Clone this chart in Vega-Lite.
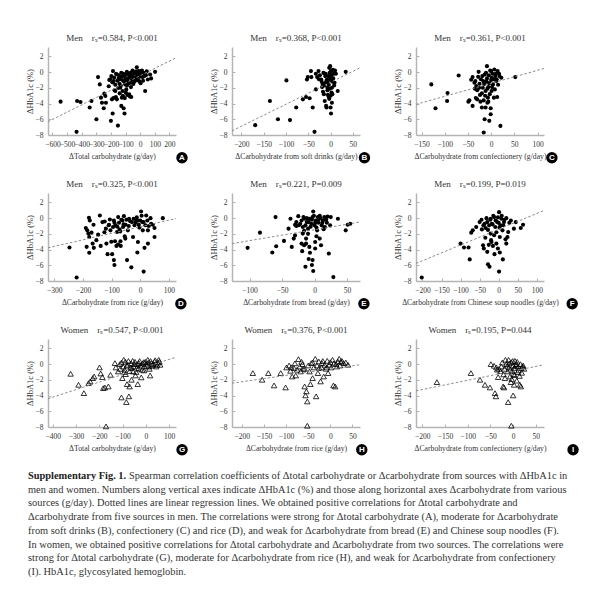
{
"$schema": "https://vega.github.io/schema/vega-lite/v6.json",
"padding": {"left": 25, "top": 34, "right": 5, "bottom": 5},
"config": {
 "font": "Liberation Serif",
 "view": {"stroke": null},
 "axis": {"domainColor": "#b4b4b4", "domainWidth": 1.5, "tickColor": "#b4b4b4", "tickSize": -3, "tickWidth": 1, "tickCount": 20, "labelFont": "Liberation Serif", "labelFontSize": 7.5, "labelColor": "#333", "labelPadding": 8, "titleFont": "Liberation Serif", "titleFontSize": 7.7, "titleFontWeight": "normal", "titleColor": "#333", "grid": false, "labelOverlap": false, "labelFlush": false},
 "axisX": {"titlePadding": 5, "labelOverlap": false},
 "axisY": {"titlePadding": 1, "titleFontSize": 8.5, "labelOverlap": false},
 "title": {"font": "Liberation Serif", "fontSize": 9, "fontWeight": "normal", "color": "#333", "offset": 4}
},
"datasets": {
 "A": [{"x":-544,"y":-3.76},{"x":-435,"y":-7.6},{"x":-431,"y":-3.67},{"x":-408,"y":-3.8},{"x":-333,"y":-3.67},{"x":-345,"y":-4.5},{"x":-288,"y":-0.63},{"x":-276,"y":-1.56},{"x":-299,"y":-6.0},{"x":-268,"y":-3.25},{"x":-245,"y":-2.74},{"x":-238,"y":-3.04},{"x":-261,"y":-3.9},{"x":-234,"y":-3.9},{"x":-249,"y":-4.6},{"x":-211,"y":-1.0},{"x":-215,"y":-1.8},{"x":-200,"y":-6.2},{"x":-193,"y":-3.46},{"x":-188,"y":-5.27},{"x":-186,"y":0.13},{"x":-197,"y":-0.5},{"x":-181,"y":-1.14},{"x":-175,"y":-2.3},{"x":-166,"y":-3.16},{"x":-159,"y":-3.46},{"x":-152,"y":-6.8},{"x":-159,"y":-0.3},{"x":-147,"y":-0.8},{"x":-141,"y":-1.48},{"x":-136,"y":-1.98},{"x":-129,"y":-0.08},{"x":-125,"y":-3.25},{"x":-129,"y":-4.3},{"x":-113,"y":-4.6},{"x":-107,"y":-5.27},{"x":-118,"y":-1.05},{"x":-107,"y":-0.5},{"x":-102,"y":-1.56},{"x":-95,"y":-2.2},{"x":-91,"y":0.04},{"x":-84,"y":-0.8},{"x":-75,"y":-2.83},{"x":-61,"y":-3.16},{"x":-68,"y":-1.35},{"x":-57,"y":-0.38},{"x":-52,"y":0.2},{"x":-43,"y":-0.93},{"x":-34,"y":-0.2},{"x":-23,"y":0.63},{"x":-18,"y":-0.5},{"x":-11,"y":0.13},{"x":-7,"y":-1.14},{"x":7,"y":-0.08},{"x":16,"y":-0.63},{"x":23,"y":-0.08},{"x":34,"y":-2.4},{"x":39,"y":-0.38},{"x":52,"y":-0.93},{"x":68,"y":-0.3},{"x":75,"y":-0.8},{"x":102,"y":0.04},{"x":-205,"y":-0.9},{"x":-190,"y":-1.3},{"x":-178,"y":-0.7},{"x":-170,"y":-1.6},{"x":-165,"y":-0.2},{"x":-155,"y":-1.1},{"x":-150,"y":-2.0},{"x":-145,"y":-0.4},{"x":-138,"y":-0.9},{"x":-132,"y":-1.7},{"x":-126,"y":-0.6},{"x":-120,"y":-2.4},{"x":-115,"y":-0.2},{"x":-110,"y":-1.2},{"x":-100,"y":-0.9},{"x":-96,"y":-0.3},{"x":-90,"y":-1.7},{"x":-86,"y":-1.1},{"x":-80,"y":-0.2},{"x":-78,"y":-1.4},{"x":-72,"y":-0.6},{"x":-66,"y":-0.1},{"x":-63,"y":-1.9},{"x":-58,"y":-1.0},{"x":-50,"y":-0.6},{"x":-47,"y":-1.5},{"x":-40,"y":-0.1},{"x":-38,"y":-1.2},{"x":-30,"y":-0.7},{"x":-27,"y":0.1},{"x":-20,"y":-1.0},{"x":-15,"y":-0.3},{"x":-5,"y":-0.6},{"x":0,"y":0.1},{"x":3,"y":-1.4},{"x":10,"y":-0.4},{"x":12,"y":0.2},{"x":20,"y":-1.1},{"x":28,"y":-0.5},{"x":45,"y":0.1},{"x":-140,"y":-2.7},{"x":-118,"y":-3.0},{"x":-98,"y":-2.6},{"x":-170,"y":-2.4},{"x":-183,"y":-3.3},{"x":-105,"y":-3.3},{"x":-88,"y":-2.9},{"x":-70,"y":-3.1}],
 "B": [{"x":-169,"y":-6.75},{"x":-136,"y":-3.67},{"x":-118,"y":-6.0},{"x":-99,"y":-1.05},{"x":-91,"y":-6.1},{"x":-77,"y":-4.5},{"x":-62,"y":-3.46},{"x":-55,"y":-3.16},{"x":-53,"y":-0.93},{"x":-51,"y":-0.63},{"x":-47,"y":-3.33},{"x":-44,"y":0.13},{"x":-43,"y":-0.63},{"x":-40,"y":-4.5},{"x":-36,"y":-7.6},{"x":-33,"y":-0.2},{"x":-30,"y":-0.63},{"x":-27,"y":0.13},{"x":-33,"y":-2.2},{"x":-21,"y":-0.93},{"x":-18,"y":-1.48},{"x":-17,"y":-2.5},{"x":-15,"y":-2.8},{"x":-13,"y":-3.67},{"x":-12,"y":-0.5},{"x":-10,"y":-4.3},{"x":-9,"y":-4.5},{"x":-8,"y":-0.93},{"x":-7,"y":-1.98},{"x":-6,"y":-1.35},{"x":-4,"y":-3.16},{"x":-3,"y":0.55},{"x":-1,"y":0.76},{"x":-1,"y":-0.72},{"x":0,"y":-4.5},{"x":1,"y":-5.27},{"x":1,"y":0.13},{"x":3,"y":-1.98},{"x":4,"y":-2.8},{"x":3,"y":-3.9},{"x":7,"y":-0.2},{"x":9,"y":-1.35},{"x":12,"y":-0.2},{"x":16,"y":-2.4},{"x":34,"y":0.04},{"x":-24,"y":-0.4},{"x":-20,"y":-1.2},{"x":-16,"y":-0.1},{"x":-14,"y":-1.7},{"x":-11,"y":-0.2},{"x":-9,"y":-1.1},{"x":-7,"y":-2.3},{"x":-5,"y":-0.5},{"x":-4,"y":-1.6},{"x":-2,"y":-0.1},{"x":-2,"y":-2.1},{"x":0,"y":-1.0},{"x":0,"y":-3.0},{"x":2,"y":-0.4},{"x":2,"y":-2.6},{"x":4,"y":-1.2},{"x":5,"y":0.3},{"x":6,"y":-0.8},{"x":8,"y":-1.7},{"x":10,"y":0.2},{"x":-3,"y":-3.4},{"x":-6,"y":-2.9},{"x":-19,"y":-1.9},{"x":-26,"y":-0.9},{"x":-12,"y":-1.4}],
 "C": [{"x":-129,"y":-1.56},{"x":-120,"y":-4.6},{"x":-94,"y":-2.66},{"x":-95,"y":-3.67},{"x":-70,"y":-0.42},{"x":-49,"y":-3.76},{"x":-47,"y":-3.59},{"x":-40,"y":-4.3},{"x":-43,"y":-0.97},{"x":-40,"y":-0.63},{"x":-36,"y":-1.35},{"x":-34,"y":-1.14},{"x":-32,"y":-1.77},{"x":-30,"y":-2.3},{"x":-30,"y":-3.46},{"x":-27,"y":0.04},{"x":-25,"y":-1.48},{"x":-24,"y":-2.9},{"x":-23,"y":-3.76},{"x":-20,"y":-4.5},{"x":-19,"y":-0.5},{"x":-18,"y":-1.98},{"x":-17,"y":-1.14},{"x":-16,"y":-7.68},{"x":-14,"y":-6.0},{"x":-12,"y":-4.5},{"x":-12,"y":-2.4},{"x":-11,"y":-0.08},{"x":-9,"y":0.76},{"x":-9,"y":-0.8},{"x":-7,"y":-3.25},{"x":-6,"y":-1.9},{"x":-6,"y":-3.76},{"x":-4,"y":-6.2},{"x":-1,"y":-5.36},{"x":-1,"y":-4.6},{"x":0,"y":0.13},{"x":1,"y":-0.72},{"x":1,"y":-2.4},{"x":4,"y":-1.56},{"x":6,"y":-3.25},{"x":7,"y":0.34},{"x":9,"y":-0.5},{"x":11,"y":-1.14},{"x":13,"y":-3.16},{"x":14,"y":0.13},{"x":17,"y":-0.2},{"x":20,"y":-6.84},{"x":22,"y":-0.72},{"x":52,"y":-0.63},{"x":-22,"y":-0.9},{"x":-20,"y":-2.7},{"x":-15,"y":-1.5},{"x":-14,"y":-0.3},{"x":-13,"y":-3.0},{"x":-10,"y":-1.2},{"x":-8,"y":-2.1},{"x":-5,"y":-0.4},{"x":-4,"y":-1.4},{"x":-3,"y":-2.8},{"x":-2,"y":0.2},{"x":0,"y":-1.0},{"x":2,"y":-1.9},{"x":3,"y":-0.2},{"x":5,"y":-0.9},{"x":8,"y":-2.2},{"x":10,"y":-0.2},{"x":12,"y":-0.9},{"x":15,"y":-1.6},{"x":18,"y":-0.5},{"x":-28,"y":-0.6},{"x":-26,"y":-2.0},{"x":-35,"y":-2.1},{"x":-33,"y":-3.3},{"x":-16,"y":-3.6},{"x":-8,"y":-3.9}],
 "D": [{"x":-247,"y":-3.74},{"x":-222,"y":-7.56},{"x":-178,"y":-4.4},{"x":-179,"y":0.05},{"x":-176,"y":-0.3},{"x":-190,"y":-1.26},{"x":-185,"y":-1.55},{"x":-181,"y":-1.97},{"x":-187,"y":-3.65},{"x":-178,"y":-2.4},{"x":-170,"y":-1.85},{"x":-166,"y":-3.24},{"x":-163,"y":-0.84},{"x":-162,"y":-3.78},{"x":-153,"y":-2.8},{"x":-147,"y":-2.1},{"x":-141,"y":0.34},{"x":-138,"y":-3.53},{"x":-132,"y":-0.5},{"x":-124,"y":-0.42},{"x":-120,"y":-1.34},{"x":-118,"y":-3.24},{"x":-114,"y":-4.58},{"x":-109,"y":-0.84},{"x":-106,"y":-0.17},{"x":-104,"y":-1.55},{"x":-101,"y":-3.0},{"x":-98,"y":-4.58},{"x":-95,"y":-1.13},{"x":-92,"y":-0.3},{"x":-92,"y":-5.34},{"x":-90,"y":-5.97},{"x":-88,"y":-2.94},{"x":-86,"y":-0.92},{"x":-83,"y":-3.53},{"x":-81,"y":-1.76},{"x":-77,"y":0.13},{"x":-77,"y":-3.36},{"x":-74,"y":-0.59},{"x":-72,"y":-1.43},{"x":-69,"y":-2.94},{"x":-68,"y":-3.53},{"x":-62,"y":-0.3},{"x":-60,"y":-1.13},{"x":-57,"y":0.25},{"x":-54,"y":-2.31},{"x":-51,"y":-0.84},{"x":-46,"y":-5.34},{"x":-43,"y":-1.55},{"x":-39,"y":-0.08},{"x":-31,"y":-6.26},{"x":-29,"y":-0.5},{"x":-25,"y":-2.4},{"x":-23,"y":-0.08},{"x":-16,"y":-0.59},{"x":-14,"y":-0.34},{"x":-10,"y":-4.37},{"x":-8,"y":-3.03},{"x":-5,"y":-0.84},{"x":0,"y":-0.3},{"x":3,"y":0.84},{"x":7,"y":-0.5},{"x":9,"y":-1.55},{"x":12,"y":-6.8},{"x":15,"y":-3.78},{"x":21,"y":0.34},{"x":27,"y":-1.55},{"x":27,"y":-3.24},{"x":36,"y":0.0},{"x":38,"y":-0.71},{"x":44,"y":-0.84},{"x":50,"y":-1.26},{"x":50,"y":-2.4},{"x":79,"y":0.0},{"x":-90,"y":-0.6},{"x":-80,"y":-1.1},{"x":-66,"y":-0.2},{"x":-58,"y":-0.8},{"x":-48,"y":-0.2},{"x":-40,"y":-1.0},{"x":-35,"y":-0.4},{"x":-20,"y":-0.9},{"x":-12,"y":0.1},{"x":-8,"y":-0.3},{"x":-3,"y":-1.2},{"x":5,"y":0.3},{"x":12,"y":-0.5},{"x":18,"y":-0.9},{"x":25,"y":-0.3},{"x":30,"y":-1.0},{"x":-110,"y":-0.9},{"x":-125,"y":-1.8},{"x":-70,"y":-1.7},{"x":-52,"y":-2.6}],
 "E": [{"x":-103,"y":-3.78},{"x":-84,"y":-1.85},{"x":-65,"y":-4.37},{"x":-60,"y":0.13},{"x":-59,"y":-3.57},{"x":-47,"y":-2.9},{"x":-40,"y":-1.34},{"x":-37,"y":-0.08},{"x":-35,"y":-3.66},{"x":-32,"y":-2.6},{"x":-30,"y":-0.84},{"x":-28,"y":-0.5},{"x":-25,"y":0.25},{"x":-22,"y":-0.71},{"x":-20,"y":-3.24},{"x":-19,"y":-4.2},{"x":-18,"y":-1.97},{"x":-18,"y":-1.13},{"x":-17,"y":0.13},{"x":-16,"y":-3.45},{"x":-15,"y":-0.08},{"x":-14,"y":-6.18},{"x":-14,"y":-0.92},{"x":-13,"y":-2.6},{"x":-13,"y":-3.24},{"x":-12,"y":-0.5},{"x":-10,"y":-1.34},{"x":-9,"y":-5.2},{"x":-8,"y":-3.66},{"x":-8,"y":-0.08},{"x":-7,"y":-4.4},{"x":-5,"y":-0.71},{"x":-4,"y":-5.97},{"x":-3,"y":-5.34},{"x":-3,"y":0.13},{"x":-2,"y":0.84},{"x":-2,"y":-6.72},{"x":0,"y":-0.92},{"x":1,"y":-3.87},{"x":1,"y":-3.03},{"x":2,"y":-0.3},{"x":4,"y":-1.55},{"x":5,"y":0.13},{"x":6,"y":-0.59},{"x":8,"y":-2.6},{"x":9,"y":0.0},{"x":10,"y":-3.45},{"x":11,"y":-0.92},{"x":13,"y":-0.3},{"x":15,"y":0.13},{"x":16,"y":-1.13},{"x":19,"y":-0.59},{"x":22,"y":-4.5},{"x":24,"y":-0.92},{"x":25,"y":0.13},{"x":29,"y":-7.5},{"x":36,"y":-0.08},{"x":48,"y":-1.55},{"x":51,"y":-0.84},{"x":55,"y":-0.71},{"x":-24,"y":-0.9},{"x":-20,"y":-0.3},{"x":-16,"y":-1.6},{"x":-12,"y":0.0},{"x":-9,"y":-0.5},{"x":-6,"y":-1.1},{"x":-4,"y":-0.2},{"x":-1,"y":0.3},{"x":1,"y":-0.6},{"x":3,"y":-1.2},{"x":6,"y":-0.2},{"x":8,"y":0.3},{"x":12,"y":-0.6},{"x":14,"y":-1.4},{"x":18,"y":-0.2},{"x":20,"y":0.2},{"x":-28,"y":-1.0},{"x":-30,"y":-2.2},{"x":-10,"y":-2.0},{"x":3,"y":-2.3}],
 "F": [{"x":-202,"y":-7.56},{"x":-100,"y":-3.24},{"x":-91,"y":-3.74},{"x":-79,"y":-3.74},{"x":-76,"y":-5.25},{"x":-72,"y":-1.85},{"x":-68,"y":-1.55},{"x":-59,"y":-1.13},{"x":-50,"y":-0.5},{"x":-44,"y":-1.43},{"x":-41,"y":-3.45},{"x":-39,"y":-3.87},{"x":-37,"y":-0.71},{"x":-34,"y":-1.26},{"x":-32,"y":0.0},{"x":-30,"y":-4.29},{"x":-28,"y":-5.88},{"x":-25,"y":-0.92},{"x":-24,"y":-6.18},{"x":-21,"y":-0.08},{"x":-21,"y":-1.97},{"x":-19,"y":-3.03},{"x":-18,"y":-0.71},{"x":-15,"y":-3.53},{"x":-12,"y":0.13},{"x":-12,"y":-2.18},{"x":-11,"y":-4.58},{"x":-9,"y":-1.13},{"x":-6,"y":-3.24},{"x":-4,"y":-0.5},{"x":-2,"y":-3.87},{"x":1,"y":0.76},{"x":1,"y":-6.8},{"x":3,"y":-4.37},{"x":3,"y":-2.4},{"x":5,"y":-0.92},{"x":7,"y":-0.08},{"x":10,"y":-1.55},{"x":11,"y":-5.25},{"x":14,"y":-0.5},{"x":20,"y":0.0},{"x":20,"y":-3.24},{"x":23,"y":-2.4},{"x":25,"y":-1.76},{"x":32,"y":-0.3},{"x":40,"y":-1.34},{"x":45,"y":-0.5},{"x":58,"y":-1.26},{"x":64,"y":-0.84},{"x":-45,"y":-0.2},{"x":-40,"y":-0.9},{"x":-30,"y":-0.5},{"x":-28,"y":-1.5},{"x":-22,"y":-0.2},{"x":-16,"y":-0.8},{"x":-14,"y":0.3},{"x":-8,"y":-0.3},{"x":-6,"y":-1.8},{"x":-2,"y":0.1},{"x":0,"y":-0.6},{"x":2,"y":-1.2},{"x":8,"y":0.3},{"x":12,"y":-0.9},{"x":15,"y":-0.2},{"x":18,"y":-2.7},{"x":-35,"y":-2.5},{"x":-26,"y":-3.4},{"x":-20,"y":-2.8},{"x":28,"y":-0.6}],
 "G": [{"x":-323,"y":-1.23},{"x":-289,"y":-2.63},{"x":-266,"y":-3.69},{"x":-246,"y":-2.42},{"x":-239,"y":-2.2},{"x":-228,"y":-1.78},{"x":-222,"y":-1.57},{"x":-199,"y":-0.42},{"x":-194,"y":-1.19},{"x":-183,"y":-3.05},{"x":-171,"y":-7.92},{"x":-187,"y":-1.65},{"x":-176,"y":-2.97},{"x":-161,"y":-2.84},{"x":-152,"y":-1.36},{"x":-133,"y":0.13},{"x":-129,"y":-0.42},{"x":-119,"y":-0.93},{"x":-112,"y":0.0},{"x":-105,"y":-4.24},{"x":-101,"y":-1.78},{"x":-95,"y":0.55},{"x":-91,"y":-0.72},{"x":-87,"y":-1.27},{"x":-84,"y":-4.83},{"x":-81,"y":-2.54},{"x":-77,"y":-0.08},{"x":-73,"y":-4.1},{"x":-70,"y":-2.84},{"x":-66,"y":-0.42},{"x":-62,"y":-1.99},{"x":-57,"y":0.42},{"x":-54,"y":-0.93},{"x":-50,"y":0.0},{"x":-45,"y":-1.44},{"x":-40,"y":-0.51},{"x":-35,"y":-2.54},{"x":-30,"y":0.13},{"x":-24,"y":-0.17},{"x":-20,"y":-1.69},{"x":-16,"y":-0.72},{"x":-10,"y":0.25},{"x":-6,"y":-0.3},{"x":1,"y":0.0},{"x":8,"y":0.55},{"x":13,"y":-0.3},{"x":18,"y":-1.44},{"x":23,"y":0.13},{"x":30,"y":-0.08},{"x":37,"y":0.34},{"x":44,"y":-0.3},{"x":55,"y":0.55},{"x":61,"y":-0.08},{"x":-110,"y":-0.6},{"x":-105,"y":0.2},{"x":-98,"y":-0.3},{"x":-93,"y":-1.0},{"x":-88,"y":0.3},{"x":-82,"y":-0.2},{"x":-75,"y":0.4},{"x":-70,"y":-0.9},{"x":-64,"y":0.1},{"x":-60,"y":-0.5},{"x":-52,"y":-0.3},{"x":-47,"y":0.3},{"x":-42,"y":-1.0},{"x":-37,"y":0.0},{"x":-32,"y":-0.6},{"x":-27,"y":0.4},{"x":-20,"y":-0.3},{"x":-14,"y":0.1},{"x":-8,"y":-0.8},{"x":-3,"y":0.3},{"x":4,"y":-0.2},{"x":10,"y":0.2},{"x":15,"y":-0.6},{"x":20,"y":0.4},{"x":26,"y":-0.2},{"x":33,"y":0.0},{"x":40,"y":0.5},{"x":48,"y":-0.1},{"x":52,"y":0.2},{"x":58,"y":0.3}],
 "H": [{"x":-175,"y":-1.14},{"x":-154,"y":-1.99},{"x":-140,"y":-1.14},{"x":-127,"y":-2.71},{"x":-112,"y":-1.14},{"x":-101,"y":-2.97},{"x":-99,"y":-0.42},{"x":-93,"y":-0.17},{"x":-90,"y":-0.85},{"x":-86,"y":-1.57},{"x":-82,"y":-0.51},{"x":-78,"y":-1.44},{"x":-75,"y":-0.72},{"x":-72,"y":0.64},{"x":-69,"y":-0.3},{"x":-67,"y":-0.93},{"x":-63,"y":0.0},{"x":-61,"y":-0.59},{"x":-58,"y":-2.84},{"x":-56,"y":-3.98},{"x":-52,"y":-4.75},{"x":-52,"y":-7.84},{"x":-54,"y":-3.47},{"x":-50,"y":-0.17},{"x":-47,"y":-0.93},{"x":-45,"y":-2.54},{"x":-43,"y":0.13},{"x":-40,"y":-1.78},{"x":-37,"y":-0.42},{"x":-34,"y":0.68},{"x":-32,"y":-4.1},{"x":-30,"y":-0.17},{"x":-28,"y":-1.14},{"x":-26,"y":0.34},{"x":-22,"y":-2.2},{"x":-20,"y":-0.42},{"x":-19,"y":0.13},{"x":-15,"y":-1.57},{"x":-13,"y":-0.08},{"x":-10,"y":-0.59},{"x":-7,"y":0.42},{"x":-5,"y":-1.14},{"x":-2,"y":-0.08},{"x":0,"y":0.25},{"x":2,"y":-0.42},{"x":5,"y":0.55},{"x":7,"y":-2.71},{"x":11,"y":-2.84},{"x":13,"y":0.0},{"x":17,"y":0.34},{"x":20,"y":0.68},{"x":22,"y":-0.17},{"x":26,"y":0.42},{"x":30,"y":0.13},{"x":40,"y":-0.08},{"x":-88,"y":-0.4},{"x":-80,"y":0.1},{"x":-65,"y":0.3},{"x":-58,"y":-0.6},{"x":-40,"y":0.2},{"x":-25,"y":-0.5},{"x":-17,"y":0.4},{"x":-8,"y":-0.4},{"x":8,"y":0.1},{"x":15,"y":-0.3},{"x":24,"y":0.3},{"x":35,"y":0.2}],
 "I": [{"x":-168,"y":-2.29},{"x":-93,"y":-1.14},{"x":-73,"y":-1.99},{"x":-62,"y":-2.63},{"x":-51,"y":-2.97},{"x":-49,"y":0.0},{"x":-42,"y":-0.21},{"x":-40,"y":-3.69},{"x":-38,"y":-4.1},{"x":-37,"y":-0.42},{"x":-33,"y":-1.65},{"x":-31,"y":-0.59},{"x":-26,"y":-0.3},{"x":-22,"y":-2.84},{"x":-20,"y":-2.97},{"x":-18,"y":-1.78},{"x":-17,"y":0.55},{"x":-15,"y":0.0},{"x":-12,"y":-0.93},{"x":-11,"y":-4.83},{"x":-10,"y":0.55},{"x":-9,"y":-0.42},{"x":-7,"y":-1.57},{"x":-5,"y":-2.29},{"x":-4,"y":0.25},{"x":-4,"y":-7.84},{"x":-2,"y":-0.85},{"x":0,"y":-0.17},{"x":0,"y":-3.98},{"x":1,"y":-1.27},{"x":2,"y":-2.63},{"x":4,"y":0.42},{"x":5,"y":-0.51},{"x":7,"y":0.0},{"x":10,"y":-1.02},{"x":11,"y":-0.3},{"x":15,"y":-2.63},{"x":17,"y":-2.84},{"x":18,"y":-0.51},{"x":22,"y":-0.17},{"x":24,"y":-0.59},{"x":-28,"y":-0.9},{"x":-24,"y":0.2},{"x":-21,"y":-1.3},{"x":-13,"y":-0.2},{"x":-8,"y":0.1},{"x":-6,"y":-0.7},{"x":-3,"y":-1.9},{"x":-1,"y":0.4},{"x":2,"y":-0.5},{"x":3,"y":-1.4},{"x":6,"y":-0.2},{"x":8,"y":-2.1},{"x":9,"y":0.3},{"x":12,"y":-0.8},{"x":14,"y":-1.5},{"x":16,"y":0.0},{"x":19,"y":-1.1},{"x":21,"y":-0.3},{"x":-35,"y":-0.7},{"x":-19,"y":-0.6}],
 "lines": [{"p":"A","x1":-630,"y1":-6.3,"x2":245,"y2":1.83},{"p":"B","x1":-221,"y1":-7.47,"x2":66,"y2":0.55},{"p":"C","x1":-162,"y1":-4.1,"x2":114,"y2":0.46},{"p":"D","x1":-322,"y1":-3.78,"x2":125,"y2":-0.05},{"p":"E","x1":-127,"y1":-3.24,"x2":70,"y2":-0.5},{"p":"F","x1":-217,"y1":-5.76,"x2":119,"y2":0.97},{"p":"G","x1":-420,"y1":-4.4,"x2":129,"y2":0.89},{"p":"H","x1":-222,"y1":-2.42,"x2":67,"y2":-0.08},{"p":"I","x1":-214,"y1":-3.39,"x2":68,"y2":-0.08}],
 "badges": [{"p":"A","letter":"A"},{"p":"B","letter":"B"},{"p":"C","letter":"C"},{"p":"D","letter":"D"},{"p":"E","letter":"E"},{"p":"F","letter":"F"},{"p":"G","letter":"G"},{"p":"H","letter":"H"},{"p":"I","letter":"I"}],
 "captionHead": [{"line":1,"text":"Supplementary Fig. 1."}],
 "caption": [
  {"line":1,"text":"Spearman correlation coefficients of Δtotal carbohydrate or Δcarbohydrate from sources with ΔHbA1c in"},
  {"line":2,"text":"men and women. Numbers along vertical axes indicate ΔHbA1c (%) and those along horizontal axes Δcarbohydrate from various"},
  {"line":3,"text":"sources (g/day). Dotted lines are linear regression lines. We obtained positive correlations for Δtotal carbohydrate and"},
  {"line":4,"text":"Δcarbohydrate from five sources in men. The correlations were strong for Δtotal carbohydrate (A), moderate for Δcarbohydrate"},
  {"line":5,"text":"from soft drinks (B), confectionery (C) and rice (D), and weak for Δcarbohydrate from bread (E) and Chinese soup noodles (F)."},
  {"line":6,"text":"In women, we obtained positive correlations for Δtotal carbohydrate and Δcarbohydrate from two sources. The correlations were"},
  {"line":7,"text":"strong for Δtotal carbohydrate (G), moderate for Δcarbohydrate from rice (H), and weak for Δcarbohydrate from confectionery"},
  {"line":8,"text":"(I). HbA1c, glycosylated hemoglobin."}
 ]
},
"spacing": 15,
"vconcat": [
 {
  "columns": 3,
  "spacing": {"row": 58, "column": 56},
  "bounds": "flush",
  "concat": [
   {"width":128,"height":88,"title":"Men\u00a0\u00a0\u00a0\u00a0rₛ=0.584, P<0.001","layer":[
    {"data":{"name":"A"},"mark":{"type":"circle","color":"black","size":17,"opacity":1},"encoding":{"x":{"field":"x","type":"quantitative","scale":{"domain":[-630,245],"nice":false,"zero":false},"axis":{"values":[-600,-500,-400,-300,-200,-100,0,100,200],"format":"d","tickCount":20,"labelOverlap":false,"title":"ΔTotal carbohydrate (g/day)"}},"y":{"field":"y","type":"quantitative","scale":{"domain":[-8,3.2],"nice":false,"zero":false},"axis":{"values":[-8,-6,-4,-2,0,2],"format":"d","tickCount":20,"labelOverlap":false,"title":"ΔHbA1c (%)"}}}},
    {"data":{"name":"lines"},"transform":[{"filter":"datum.p==='A'"}],"mark":{"type":"rule","color":"#8c8c8c","strokeDash":[2.5,2],"strokeWidth":1},"encoding":{"x":{"field":"x1","type":"quantitative"},"x2":{"field":"x2"},"y":{"field":"y1","type":"quantitative"},"y2":{"field":"y2"}}},
    {"data":{"name":"badges"},"transform":[{"filter":"datum.p==='A'"}],"mark":{"type":"circle","color":"black","size":130,"opacity":1},"encoding":{"x":{"datum":286,"type":"quantitative"},"y":{"datum":-10.9,"type":"quantitative"}}},
    {"data":{"name":"badges"},"transform":[{"filter":"datum.p==='A'"}],"mark":{"type":"text","color":"white","font":"Liberation Sans","fontWeight":"bold","fontSize":8,"align":"center","baseline":"middle"},"encoding":{"x":{"datum":286,"type":"quantitative"},"y":{"datum":-10.9,"type":"quantitative"},"text":{"field":"letter"}}}
   ]},
   {"width":128,"height":88,"title":"Men\u00a0\u00a0\u00a0\u00a0rₛ=0.368, P<0.001","layer":[
    {"data":{"name":"B"},"mark":{"type":"circle","color":"black","size":17,"opacity":1},"encoding":{"x":{"field":"x","type":"quantitative","scale":{"domain":[-221,66],"nice":false,"zero":false},"axis":{"values":[-200,-150,-100,-50,0,50],"format":"d","tickCount":20,"labelOverlap":false,"title":"ΔCarbohydrate from soft drinks (g/day)"}},"y":{"field":"y","type":"quantitative","scale":{"domain":[-8,3.2],"nice":false,"zero":false},"axis":{"values":[-8,-6,-4,-2,0,2],"format":"d","tickCount":20,"labelOverlap":false,"title":"ΔHbA1c (%)"}}}},
    {"data":{"name":"lines"},"transform":[{"filter":"datum.p==='B'"}],"mark":{"type":"rule","color":"#8c8c8c","strokeDash":[2.5,2],"strokeWidth":1},"encoding":{"x":{"field":"x1","type":"quantitative"},"x2":{"field":"x2"},"y":{"field":"y1","type":"quantitative"},"y2":{"field":"y2"}}},
    {"data":{"name":"badges"},"transform":[{"filter":"datum.p==='B'"}],"mark":{"type":"circle","color":"black","size":130,"opacity":1},"encoding":{"x":{"datum":76,"type":"quantitative"},"y":{"datum":-10.9,"type":"quantitative"}}},
    {"data":{"name":"badges"},"transform":[{"filter":"datum.p==='B'"}],"mark":{"type":"text","color":"white","font":"Liberation Sans","fontWeight":"bold","fontSize":8,"align":"center","baseline":"middle"},"encoding":{"x":{"datum":76,"type":"quantitative"},"y":{"datum":-10.9,"type":"quantitative"},"text":{"field":"letter"}}}
   ]},
   {"width":128,"height":88,"title":"Men\u00a0\u00a0\u00a0\u00a0rₛ=0.361, P<0.001","layer":[
    {"data":{"name":"C"},"mark":{"type":"circle","color":"black","size":17,"opacity":1},"encoding":{"x":{"field":"x","type":"quantitative","scale":{"domain":[-162,114],"nice":false,"zero":false},"axis":{"values":[-150,-100,-50,0,50,100],"format":"d","tickCount":20,"labelOverlap":false,"title":"ΔCarbohydrate from confectionery (g/day)"}},"y":{"field":"y","type":"quantitative","scale":{"domain":[-8,3.2],"nice":false,"zero":false},"axis":{"values":[-8,-6,-4,-2,0,2],"format":"d","tickCount":20,"labelOverlap":false,"title":"ΔHbA1c (%)"}}}},
    {"data":{"name":"lines"},"transform":[{"filter":"datum.p==='C'"}],"mark":{"type":"rule","color":"#8c8c8c","strokeDash":[2.5,2],"strokeWidth":1},"encoding":{"x":{"field":"x1","type":"quantitative"},"x2":{"field":"x2"},"y":{"field":"y1","type":"quantitative"},"y2":{"field":"y2"}}},
    {"data":{"name":"badges"},"transform":[{"filter":"datum.p==='C'"}],"mark":{"type":"circle","color":"black","size":130,"opacity":1},"encoding":{"x":{"datum":131,"type":"quantitative"},"y":{"datum":-10.9,"type":"quantitative"}}},
    {"data":{"name":"badges"},"transform":[{"filter":"datum.p==='C'"}],"mark":{"type":"text","color":"white","font":"Liberation Sans","fontWeight":"bold","fontSize":8,"align":"center","baseline":"middle"},"encoding":{"x":{"datum":131,"type":"quantitative"},"y":{"datum":-10.9,"type":"quantitative"},"text":{"field":"letter"}}}
   ]},
   {"width":128,"height":88,"title":"Men\u00a0\u00a0\u00a0\u00a0rₛ=0.325, P<0.001","layer":[
    {"data":{"name":"D"},"mark":{"type":"circle","color":"black","size":17,"opacity":1},"encoding":{"x":{"field":"x","type":"quantitative","scale":{"domain":[-322,125],"nice":false,"zero":false},"axis":{"values":[-300,-200,-100,0,100],"format":"d","tickCount":20,"labelOverlap":false,"title":"ΔCarbohydrate from rice (g/day)"}},"y":{"field":"y","type":"quantitative","scale":{"domain":[-8,3.2],"nice":false,"zero":false},"axis":{"values":[-8,-6,-4,-2,0,2],"format":"d","tickCount":20,"labelOverlap":false,"title":"ΔHbA1c (%)"}}}},
    {"data":{"name":"lines"},"transform":[{"filter":"datum.p==='D'"}],"mark":{"type":"rule","color":"#8c8c8c","strokeDash":[2.5,2],"strokeWidth":1},"encoding":{"x":{"field":"x1","type":"quantitative"},"x2":{"field":"x2"},"y":{"field":"y1","type":"quantitative"},"y2":{"field":"y2"}}},
    {"data":{"name":"badges"},"transform":[{"filter":"datum.p==='D'"}],"mark":{"type":"circle","color":"black","size":130,"opacity":1},"encoding":{"x":{"datum":142,"type":"quantitative"},"y":{"datum":-10.9,"type":"quantitative"}}},
    {"data":{"name":"badges"},"transform":[{"filter":"datum.p==='D'"}],"mark":{"type":"text","color":"white","font":"Liberation Sans","fontWeight":"bold","fontSize":8,"align":"center","baseline":"middle"},"encoding":{"x":{"datum":142,"type":"quantitative"},"y":{"datum":-10.9,"type":"quantitative"},"text":{"field":"letter"}}}
   ]},
   {"width":128,"height":88,"title":"Men\u00a0\u00a0\u00a0\u00a0rₛ=0.221, P=0.009","layer":[
    {"data":{"name":"E"},"mark":{"type":"circle","color":"black","size":17,"opacity":1},"encoding":{"x":{"field":"x","type":"quantitative","scale":{"domain":[-127,70],"nice":false,"zero":false},"axis":{"values":[-100,-50,0,50],"format":"d","tickCount":20,"labelOverlap":false,"title":"ΔCarbohydrate from bread (g/day)"}},"y":{"field":"y","type":"quantitative","scale":{"domain":[-8,3.2],"nice":false,"zero":false},"axis":{"values":[-8,-6,-4,-2,0,2],"format":"d","tickCount":20,"labelOverlap":false,"title":"ΔHbA1c (%)"}}}},
    {"data":{"name":"lines"},"transform":[{"filter":"datum.p==='E'"}],"mark":{"type":"rule","color":"#8c8c8c","strokeDash":[2.5,2],"strokeWidth":1},"encoding":{"x":{"field":"x1","type":"quantitative"},"x2":{"field":"x2"},"y":{"field":"y1","type":"quantitative"},"y2":{"field":"y2"}}},
    {"data":{"name":"badges"},"transform":[{"filter":"datum.p==='E'"}],"mark":{"type":"circle","color":"black","size":130,"opacity":1},"encoding":{"x":{"datum":76,"type":"quantitative"},"y":{"datum":-10.9,"type":"quantitative"}}},
    {"data":{"name":"badges"},"transform":[{"filter":"datum.p==='E'"}],"mark":{"type":"text","color":"white","font":"Liberation Sans","fontWeight":"bold","fontSize":8,"align":"center","baseline":"middle"},"encoding":{"x":{"datum":76,"type":"quantitative"},"y":{"datum":-10.9,"type":"quantitative"},"text":{"field":"letter"}}}
   ]},
   {"width":128,"height":88,"title":"Men\u00a0\u00a0\u00a0\u00a0rₛ=0.199, P=0.019","layer":[
    {"data":{"name":"F"},"mark":{"type":"circle","color":"black","size":17,"opacity":1},"encoding":{"x":{"field":"x","type":"quantitative","scale":{"domain":[-217,119],"nice":false,"zero":false},"axis":{"values":[-200,-150,-100,-50,0,50,100],"format":"d","tickCount":20,"labelOverlap":false,"title":"ΔCarbohydrate from Chinese soup noodles (g/day)"}},"y":{"field":"y","type":"quantitative","scale":{"domain":[-8,3.2],"nice":false,"zero":false},"axis":{"values":[-8,-6,-4,-2,0,2],"format":"d","tickCount":20,"labelOverlap":false,"title":"ΔHbA1c (%)"}}}},
    {"data":{"name":"lines"},"transform":[{"filter":"datum.p==='F'"}],"mark":{"type":"rule","color":"#8c8c8c","strokeDash":[2.5,2],"strokeWidth":1},"encoding":{"x":{"field":"x1","type":"quantitative"},"x2":{"field":"x2"},"y":{"field":"y1","type":"quantitative"},"y2":{"field":"y2"}}},
    {"data":{"name":"badges"},"transform":[{"filter":"datum.p==='F'"}],"mark":{"type":"circle","color":"black","size":130,"opacity":1},"encoding":{"x":{"datum":193,"type":"quantitative"},"y":{"datum":-10.9,"type":"quantitative"}}},
    {"data":{"name":"badges"},"transform":[{"filter":"datum.p==='F'"}],"mark":{"type":"text","color":"white","font":"Liberation Sans","fontWeight":"bold","fontSize":8,"align":"center","baseline":"middle"},"encoding":{"x":{"datum":193,"type":"quantitative"},"y":{"datum":-10.9,"type":"quantitative"},"text":{"field":"letter"}}}
   ]},
   {"width":128,"height":88,"title":"Women\u00a0\u00a0\u00a0\u00a0rₛ=0.547, P<0.001","layer":[
    {"data":{"name":"G"},"mark":{"type":"point","shape":"triangle-up","filled":false,"color":"black","size":30,"strokeWidth":0.8,"opacity":1},"encoding":{"x":{"field":"x","type":"quantitative","scale":{"domain":[-420,129],"nice":false,"zero":false},"axis":{"values":[-400,-300,-200,-100,0,100],"format":"d","tickCount":20,"labelOverlap":false,"title":"ΔTotal carbohydrate (g/day)"}},"y":{"field":"y","type":"quantitative","scale":{"domain":[-8,3.2],"nice":false,"zero":false},"axis":{"values":[-8,-6,-4,-2,0,2],"format":"d","tickCount":20,"labelOverlap":false,"title":"ΔHbA1c (%)"}}}},
    {"data":{"name":"lines"},"transform":[{"filter":"datum.p==='G'"}],"mark":{"type":"rule","color":"#8c8c8c","strokeDash":[2.5,2],"strokeWidth":1},"encoding":{"x":{"field":"x1","type":"quantitative"},"x2":{"field":"x2"},"y":{"field":"y1","type":"quantitative"},"y2":{"field":"y2"}}},
    {"data":{"name":"badges"},"transform":[{"filter":"datum.p==='G'"}],"mark":{"type":"circle","color":"black","size":130,"opacity":1},"encoding":{"x":{"datum":155,"type":"quantitative"},"y":{"datum":-10.9,"type":"quantitative"}}},
    {"data":{"name":"badges"},"transform":[{"filter":"datum.p==='G'"}],"mark":{"type":"text","color":"white","font":"Liberation Sans","fontWeight":"bold","fontSize":8,"align":"center","baseline":"middle"},"encoding":{"x":{"datum":155,"type":"quantitative"},"y":{"datum":-10.9,"type":"quantitative"},"text":{"field":"letter"}}}
   ]},
   {"width":128,"height":88,"title":"Women\u00a0\u00a0\u00a0\u00a0rₛ=0.376, P<0.001","layer":[
    {"data":{"name":"H"},"mark":{"type":"point","shape":"triangle-up","filled":false,"color":"black","size":30,"strokeWidth":0.8,"opacity":1},"encoding":{"x":{"field":"x","type":"quantitative","scale":{"domain":[-222,67],"nice":false,"zero":false},"axis":{"values":[-200,-150,-100,-50,0,50],"format":"d","tickCount":20,"labelOverlap":false,"title":"ΔCarbohydrate from rice (g/day)"}},"y":{"field":"y","type":"quantitative","scale":{"domain":[-8,3.2],"nice":false,"zero":false},"axis":{"values":[-8,-6,-4,-2,0,2],"format":"d","tickCount":20,"labelOverlap":false,"title":"ΔHbA1c (%)"}}}},
    {"data":{"name":"lines"},"transform":[{"filter":"datum.p==='H'"}],"mark":{"type":"rule","color":"#8c8c8c","strokeDash":[2.5,2],"strokeWidth":1},"encoding":{"x":{"field":"x1","type":"quantitative"},"x2":{"field":"x2"},"y":{"field":"y1","type":"quantitative"},"y2":{"field":"y2"}}},
    {"data":{"name":"badges"},"transform":[{"filter":"datum.p==='H'"}],"mark":{"type":"circle","color":"black","size":130,"opacity":1},"encoding":{"x":{"datum":71,"type":"quantitative"},"y":{"datum":-10.9,"type":"quantitative"}}},
    {"data":{"name":"badges"},"transform":[{"filter":"datum.p==='H'"}],"mark":{"type":"text","color":"white","font":"Liberation Sans","fontWeight":"bold","fontSize":8,"align":"center","baseline":"middle"},"encoding":{"x":{"datum":71,"type":"quantitative"},"y":{"datum":-10.9,"type":"quantitative"},"text":{"field":"letter"}}}
   ]},
   {"width":128,"height":88,"title":"Women\u00a0\u00a0\u00a0\u00a0rₛ=0.195, P=0.044","layer":[
    {"data":{"name":"I"},"mark":{"type":"point","shape":"triangle-up","filled":false,"color":"black","size":30,"strokeWidth":0.8,"opacity":1},"encoding":{"x":{"field":"x","type":"quantitative","scale":{"domain":[-214,68],"nice":false,"zero":false},"axis":{"values":[-200,-150,-100,-50,0,50],"format":"d","tickCount":20,"labelOverlap":false,"title":"ΔCarbohydrate from confectionery (g/day)"}},"y":{"field":"y","type":"quantitative","scale":{"domain":[-8,3.2],"nice":false,"zero":false},"axis":{"values":[-8,-6,-4,-2,0,2],"format":"d","tickCount":20,"labelOverlap":false,"title":"ΔHbA1c (%)"}}}},
    {"data":{"name":"lines"},"transform":[{"filter":"datum.p==='I'"}],"mark":{"type":"rule","color":"#8c8c8c","strokeDash":[2.5,2],"strokeWidth":1},"encoding":{"x":{"field":"x1","type":"quantitative"},"x2":{"field":"x2"},"y":{"field":"y1","type":"quantitative"},"y2":{"field":"y2"}}},
    {"data":{"name":"badges"},"transform":[{"filter":"datum.p==='I'"}],"mark":{"type":"circle","color":"black","size":130,"opacity":1},"encoding":{"x":{"datum":132,"type":"quantitative"},"y":{"datum":-10.9,"type":"quantitative"}}},
    {"data":{"name":"badges"},"transform":[{"filter":"datum.p==='I'"}],"mark":{"type":"text","color":"white","font":"Liberation Sans","fontWeight":"bold","fontSize":8,"align":"center","baseline":"middle"},"encoding":{"x":{"datum":132,"type":"quantitative"},"y":{"datum":-10.9,"type":"quantitative"},"text":{"field":"letter"}}}
   ]}
  ]
 },
 {
  "width": 544, "height": 96,
  "layer": [
   {"data":{"name":"captionHead"},"mark":{"type":"text","align":"left","baseline":"middle","font":"Liberation Serif","fontSize":10.4,"fontWeight":"bold","color":"#222","dx":-20},"encoding":{"x":{"datum":0,"type":"quantitative","scale":{"domain":[0,1]},"axis":null},"y":{"field":"line","type":"quantitative","scale":{"domain":[1,8],"reverse":true,"nice":false,"zero":false},"axis":null},"text":{"field":"text"}}},
   {"data":{"name":"caption"},"transform":[{"filter":"datum.line===1"}],"mark":{"type":"text","align":"left","baseline":"middle","font":"Liberation Serif","fontSize":10.4,"color":"#333","dx":81},"encoding":{"x":{"datum":0,"type":"quantitative"},"y":{"field":"line","type":"quantitative"},"text":{"field":"text"}}},
   {"data":{"name":"caption"},"transform":[{"filter":"datum.line>1"}],"mark":{"type":"text","align":"left","baseline":"middle","font":"Liberation Serif","fontSize":10.4,"color":"#333","dx":-20},"encoding":{"x":{"datum":0,"type":"quantitative"},"y":{"field":"line","type":"quantitative"},"text":{"field":"text"}}}
  ]
 }
]
}
